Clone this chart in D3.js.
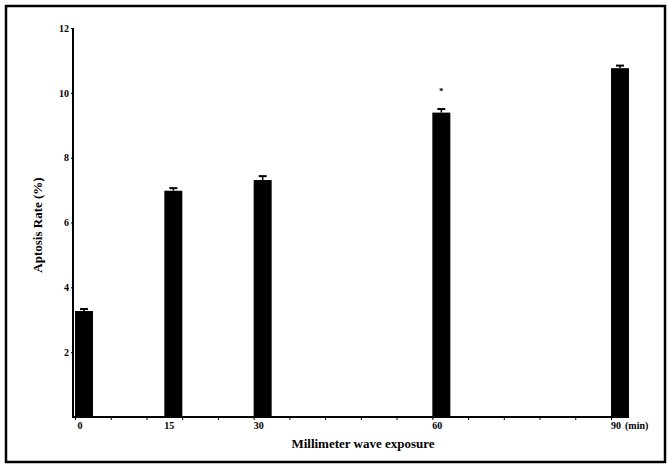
<!DOCTYPE html>
<html>
<head>
<meta charset="utf-8">
<script src="https://cdn.jsdelivr.net/npm/d3@7"></script>
<style>
  body { margin: 0; background: #fff; }
  text { font-family: "Liberation Serif", "Times New Roman", serif; font-weight: bold; }
</style>
</head>
<body>
<svg id="chart" width="668" height="466"></svg>
<script>
// exposure time (min) and apoptosis rate (%)
let minutes = [0, 15, 30, 60, 90];
let rates = [3.27, 6.98, 7.31, 9.39, 10.76];
let errors = [0.06, 0.08, 0.12, 0.11, 0.08];
let marks = ["", "", "", "*", ""];
let yTicks = [2, 4, 6, 8, 10, 12];
let xLabels = [0, 15, 30, 60, 90];

let svg = d3.select("#chart");

// outer frame
svg.append("rect")
	.attr("x", 6).attr("y", 6)
	.attr("width", 659).attr("height", 456)
	.attr("fill", "none")
	.attr("stroke", "black")
	.attr("stroke-width", 2.5)

let x = d3.scaleLinear().domain([0, 90]).range([75, 611]);
let y = d3.scaleLinear().domain([0, 12]).range([417, 28]);
let barW = 18;

// y axis
let yAxis = svg.append("g")
	.attr("transform", "translate(73,0)")
	.call(d3.axisLeft(y).tickValues(yTicks).tickSize(2).tickPadding(2))
yAxis.select(".domain").attr("stroke-width", 2).attr("d", "M0," + y(12) + "V" + (y(0) + 1))
yAxis.selectAll("text").attr("font-size", 10).attr("font-family", "Liberation Serif").attr("font-weight", "bold")

// x axis, small ticks every 6 min
let xAxis = svg.append("g")
	.attr("transform", "translate(0," + y(0) + ")")
	.call(d3.axisBottom(x).tickValues(d3.range(0, 91, 6)).tickSize(3).tickFormat(""))
xAxis.select(".domain").attr("stroke-width", 2).attr("d", "M73,0H" + (x(90) + barW))

svg.append("g").selectAll("text")
	.data(xLabels).enter()
	.append("text")
	.attr("x", d => x(d) + 5)
	.attr("y", y(0) + 12)
	.attr("text-anchor", "middle")
	.attr("font-size", 10)
	.text(d => d)

svg.append("text")
	.attr("x", x(90) + 14)
	.attr("y", y(0) + 12)
	.attr("font-size", 10)
	.text("(min)")

// bars
let bars = svg.append("g").selectAll("g")
	.data(minutes).enter()
	.append("g")

bars.append("rect")
	.attr("x", d => x(d))
	.attr("y", (d,i) => y(rates[i]))
	.attr("width", barW)
	.attr("height", (d,i) => y(0) - y(rates[i]))
	.attr("fill", "black")

bars.append("line")
	.attr("x1", d => x(d) + barW/2)
	.attr("x2", d => x(d) + barW/2)
	.attr("y1", (d,i) => y(rates[i]))
	.attr("y2", (d,i) => y(rates[i] + errors[i]))
	.attr("stroke", "black")
	.attr("stroke-width", 1.5)

bars.append("line")
	.attr("x1", d => x(d) + barW/2 - 4)
	.attr("x2", d => x(d) + barW/2 + 4)
	.attr("y1", (d,i) => y(rates[i] + errors[i]))
	.attr("y2", (d,i) => y(rates[i] + errors[i]))
	.attr("stroke", "black")
	.attr("stroke-width", 2)

bars.append("text")
	.attr("x", d => x(d) + barW/2)
	.attr("y", (d,i) => y(rates[i] + errors[i]) - 15)
	.attr("text-anchor", "middle")
	.attr("font-size", 9)
	.text((d,i) => marks[i])

// axis titles
svg.append("text")
	.attr("transform", "translate(42,225) rotate(-90)")
	.attr("text-anchor", "middle")
	.attr("font-size", 13)
	.text("Aptosis Rate (%)")

svg.append("text")
	.attr("x", 363)
	.attr("y", 448)
	.attr("text-anchor", "middle")
	.attr("font-size", 13)
	.text("Millimeter wave exposure")
</script>
</body>
</html>
